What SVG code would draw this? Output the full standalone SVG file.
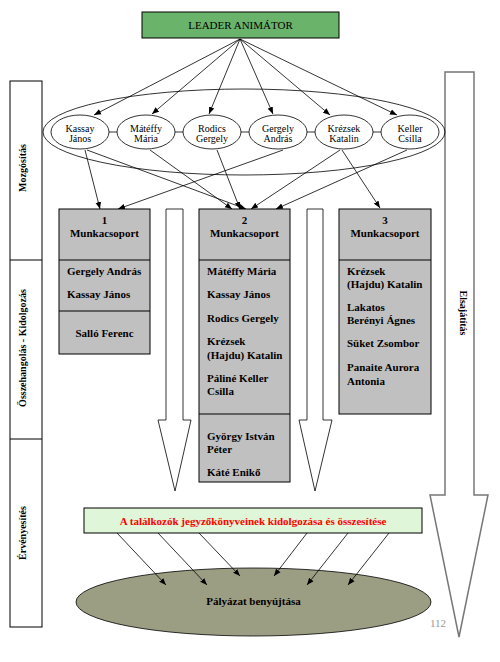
<svg xmlns="http://www.w3.org/2000/svg" width="500" height="662" viewBox="0 0 500 662">
<style>
text{font-family:"Liberation Serif","Times New Roman",serif;fill:#000}
.b{font-weight:bold;font-size:11px}
.c{text-anchor:middle}
.sm{font-size:10px;text-anchor:middle}
.lbl{font-weight:bold;font-size:10px;text-anchor:middle}
.ln{stroke:#000;stroke-width:0.8;fill:none}
.grp{fill:#c0c0c0;stroke:#000;stroke-width:1}
.ell{fill:#fff;stroke:#000;stroke-width:0.8}
.harr{fill:#fff;stroke:#000;stroke-width:0.8}
</style>
<defs>
<marker id="ah" viewBox="0 0 10 10" refX="10" refY="5" markerWidth="7" markerHeight="7" markerUnits="userSpaceOnUse" orient="auto">
<path d="M0,1 L10,5 L0,9 Z" fill="#000"/>
</marker>
</defs>
<rect width="500" height="662" fill="#fff"/>

<g id="phases">
<rect x="10" y="81" width="32" height="546" fill="#fff" stroke="#000" stroke-width="1"/>
<line x1="10" y1="260" x2="42" y2="260" stroke="#000" stroke-width="1"/>
<line x1="10" y1="439" x2="42" y2="439" stroke="#000" stroke-width="1"/>
<text class="lbl" transform="translate(26,168) rotate(-90)">Mozgósítás</text>
<text class="lbl" transform="translate(26,348) rotate(-90)">Összehangolás - Kidolgozás</text>
<text class="lbl" transform="translate(26,533) rotate(-90)">Érvényesítés</text>
</g>

<g id="elsajatitas">
<polygon points="445,72 474,72 474,495 488,495 459,637 430,495 445,495" fill="#fff" stroke="#777" stroke-width="1.5"/>
<text class="lbl" transform="translate(460,313) rotate(90)">Elsajátítás</text>
</g>

<g id="leader">
<rect x="142" y="12" width="197" height="26" fill="#69b46a" stroke="#000" stroke-width="1"/>
<text x="240.5" y="29" class="c" font-size="11">LEADER ANIMÁTOR</text>
</g>

<g id="team">
<ellipse cx="244" cy="132" rx="201" ry="43" fill="none" stroke="#000" stroke-width="0.8"/>
</g>

<g id="submit">
<ellipse cx="253.5" cy="602" rx="177.5" ry="34" fill="#9c9e84" stroke="#000" stroke-width="0.8"/>
<text x="253.5" y="605" class="b c">Pályázat benyújtása</text>
</g>

<g id="connectors">
<line class="ln" x1="240" y1="39" x2="94" y2="115" marker-end="url(#ah)"/>
<line class="ln" x1="240" y1="39" x2="152" y2="114" marker-end="url(#ah)"/>
<line class="ln" x1="240" y1="39" x2="209" y2="114" marker-end="url(#ah)"/>
<line class="ln" x1="240" y1="39" x2="273" y2="114" marker-end="url(#ah)"/>
<line class="ln" x1="240" y1="39" x2="330" y2="115" marker-end="url(#ah)"/>
<line class="ln" x1="240" y1="39" x2="397" y2="115" marker-end="url(#ah)"/>
<line class="ln" x1="109" y1="132" x2="117" y2="132"/>
<line class="ln" x1="175" y1="132" x2="183" y2="132"/>
<line class="ln" x1="241" y1="132" x2="249" y2="132"/>
<line class="ln" x1="307" y1="132" x2="315" y2="132"/>
<line class="ln" x1="373" y1="132" x2="381" y2="132"/>
<line class="ln" x1="85" y1="150" x2="100" y2="209" marker-end="url(#ah)"/>
<line class="ln" x1="87" y1="150" x2="246" y2="209" marker-end="url(#ah)"/>
<line class="ln" x1="150" y1="150" x2="232" y2="209" marker-end="url(#ah)"/>
<line class="ln" x1="217" y1="150" x2="240" y2="209" marker-end="url(#ah)"/>
<line class="ln" x1="283" y1="150" x2="118" y2="209" marker-end="url(#ah)"/>
<line class="ln" x1="340" y1="150" x2="251" y2="209" marker-end="url(#ah)"/>
<line class="ln" x1="342" y1="150" x2="380" y2="208" marker-end="url(#ah)"/>
<line class="ln" x1="407" y1="150" x2="276" y2="209" marker-end="url(#ah)"/>
<line class="ln" x1="117" y1="533" x2="166" y2="585" marker-end="url(#ah)"/>
<line class="ln" x1="158" y1="533" x2="207" y2="585" marker-end="url(#ah)"/>
<line class="ln" x1="199" y1="533" x2="240" y2="576" marker-end="url(#ah)"/>
<line class="ln" x1="307" y1="533" x2="274" y2="576" marker-end="url(#ah)"/>
<line class="ln" x1="348" y1="533" x2="307" y2="585" marker-end="url(#ah)"/>
<line class="ln" x1="389" y1="533" x2="348" y2="585" marker-end="url(#ah)"/>
</g>

<g id="kassay"><ellipse class="ell" cx="80" cy="132" rx="29" ry="17"/><text x="80" y="131.5" class="sm">Kassay</text><text x="80" y="141.5" class="sm">János</text></g>
<g id="mateffy"><ellipse class="ell" cx="146" cy="132" rx="29" ry="17"/><text x="146" y="131.5" class="sm">Mátéffy</text><text x="146" y="141.5" class="sm">Mária</text></g>
<g id="rodics"><ellipse class="ell" cx="212" cy="132" rx="29" ry="17"/><text x="212" y="131.5" class="sm">Rodics</text><text x="212" y="141.5" class="sm">Gergely</text></g>
<g id="gergely"><ellipse class="ell" cx="278" cy="132" rx="29" ry="17"/><text x="278" y="131.5" class="sm">Gergely</text><text x="278" y="141.5" class="sm">András</text></g>
<g id="krezsek"><ellipse class="ell" cx="344" cy="132" rx="29" ry="17"/><text x="344" y="131.5" class="sm">Krézsek</text><text x="344" y="141.5" class="sm">Katalin</text></g>
<g id="keller"><ellipse class="ell" cx="410" cy="132" rx="29" ry="17"/><text x="410" y="131.5" class="sm">Keller</text><text x="410" y="141.5" class="sm">Csilla</text></g>

<g id="arrowA"><polygon class="harr" points="166,209 183,209 183,420 191,420 175,491 158,420 166,420"/></g>
<g id="arrowB"><polygon class="harr" points="307,209 323,209 323,420 332,420 315,491 299,420 307,420"/></g>

<g id="group1">
<rect class="grp" x="59" y="209" width="91" height="145"/>
<line x1="59" y1="260" x2="150" y2="260" stroke="#000"/>
<line x1="59" y1="311" x2="150" y2="311" stroke="#000"/>
<text x="104.5" y="224" class="b c">1</text>
<text x="104.5" y="237" class="b c">Munkacsoport</text>
<text x="67" y="275" class="b">Gergely András</text>
<text x="67" y="298" class="b">Kassay János</text>
<text x="104.5" y="337" class="b c">Salló Ferenc</text>
</g>

<g id="group2">
<rect class="grp" x="199" y="209" width="91" height="273"/>
<line x1="199" y1="260" x2="290" y2="260" stroke="#000"/>
<line x1="199" y1="414" x2="290" y2="414" stroke="#000"/>
<text x="244.5" y="224" class="b c">2</text>
<text x="244.5" y="237" class="b c">Munkacsoport</text>
<text x="207" y="275" class="b">Mátéffy Mária</text>
<text x="207" y="298" class="b">Kassay János</text>
<text x="207" y="322" class="b">Rodics Gergely</text>
<text x="207" y="345" class="b">Krézsek</text>
<text x="207" y="359" class="b">(Hajdu) Katalin</text>
<text x="207" y="382" class="b">Páliné Keller</text>
<text x="207" y="395" class="b">Csilla</text>
<text x="207" y="440" class="b">György István</text>
<text x="207" y="453" class="b">Péter</text>
<text x="207" y="476" class="b">Káté Enikő</text>
</g>

<g id="group3">
<rect class="grp" x="339" y="209" width="92" height="205"/>
<line x1="339" y1="260" x2="431" y2="260" stroke="#000"/>
<text x="385" y="224" class="b c">3</text>
<text x="385" y="237" class="b c">Munkacsoport</text>
<text x="347" y="275" class="b">Krézsek</text>
<text x="347" y="288" class="b">(Hajdu) Katalin</text>
<text x="347" y="311" class="b">Lakatos</text>
<text x="347" y="324" class="b">Berényi Ágnes</text>
<text x="347" y="347" class="b">Süket Zsombor</text>
<text x="347" y="371" class="b">Panaite Aurora</text>
<text x="347" y="385" class="b">Antonia</text>
</g>

<g id="summary">
<rect x="84" y="508" width="338" height="25" fill="#e0f6d8" stroke="#000" stroke-width="1"/>
<text x="253" y="525" class="b c" style="fill:#ff0000">A találkozók jegyzőkönyveinek kidolgozása és összesítése</text>
</g>

<text x="438" y="627" font-size="11" text-anchor="middle" style="fill:#999">112</text>
</svg>
